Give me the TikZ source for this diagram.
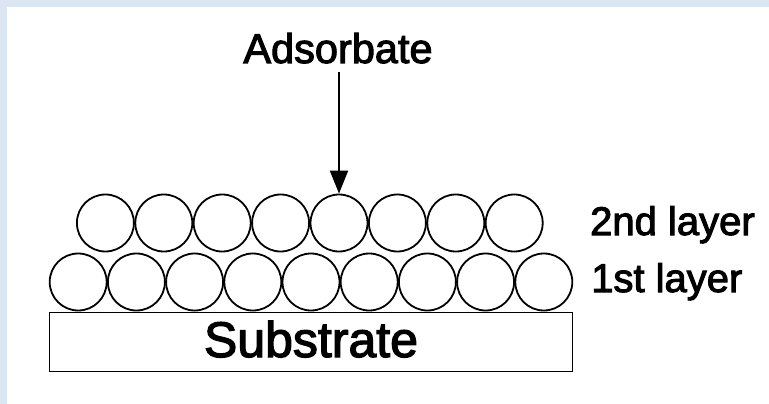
\documentclass[tikz,border=0pt]{standalone}
\usepackage{fontspec}
\setmainfont{Liberation Sans}
\newfontfamily\lblfont{Liberation Sans}[FakeBold=2.5]
\usetikzlibrary{arrows.meta}
\definecolor{frameblue}{HTML}{DCE6F2}
\begin{document}
\begin{tikzpicture}[x=1pt,y=-1pt,
  ball/.style={draw, circle, line width=1.8pt, minimum size=57pt, inner sep=0pt},
  slab/.style={draw, rectangle, line width=1.8pt, minimum width=523pt, minimum height=59pt, inner sep=0pt},
  lbl/.style={inner sep=0pt, font=\lblfont\fontsize{40}{48}\selectfont},
  biglbl/.style={inner sep=0pt, font=\lblfont\fontsize{50}{60}\selectfont},
  pointer/.style={line width=2pt, -{Triangle[length=23pt,width=18pt]}}]
\useasboundingbox (0,0) rectangle (769,404);
\fill[frameblue] (0,0) rectangle (769,7);
\fill[frameblue] (0,0) rectangle (7,404);
% substrate
\node[slab] (sub) at (311,342) {};
\node[biglbl, anchor=base] (sublbl) at (311,357) {Substrate};
% first layer
\foreach \i in {0,...,8}
  \node[ball] (b\i) at ({78.2+58.2*\i},282) {};
% second layer
\foreach \i in {0,...,7}
  \node[ball] (t\i) at ({105.4+58.4*\i},223) {};
% labels
\node[lbl, anchor=base, font=\lblfont\fontsize{41.5}{48}\selectfont] (ads) at (338,63) {Adsorbate};
\node[lbl, anchor=base west] (l2) at (590,235) {2nd layer};
\node[lbl, anchor=base west] (l1) at (591,292) {1st layer};
% arrow
\coordinate (astart) at ([yshift=-72pt]t4.north |- 0,0);
\draw[pointer] (astart) -- (t4.north);
\end{tikzpicture}
\end{document}
